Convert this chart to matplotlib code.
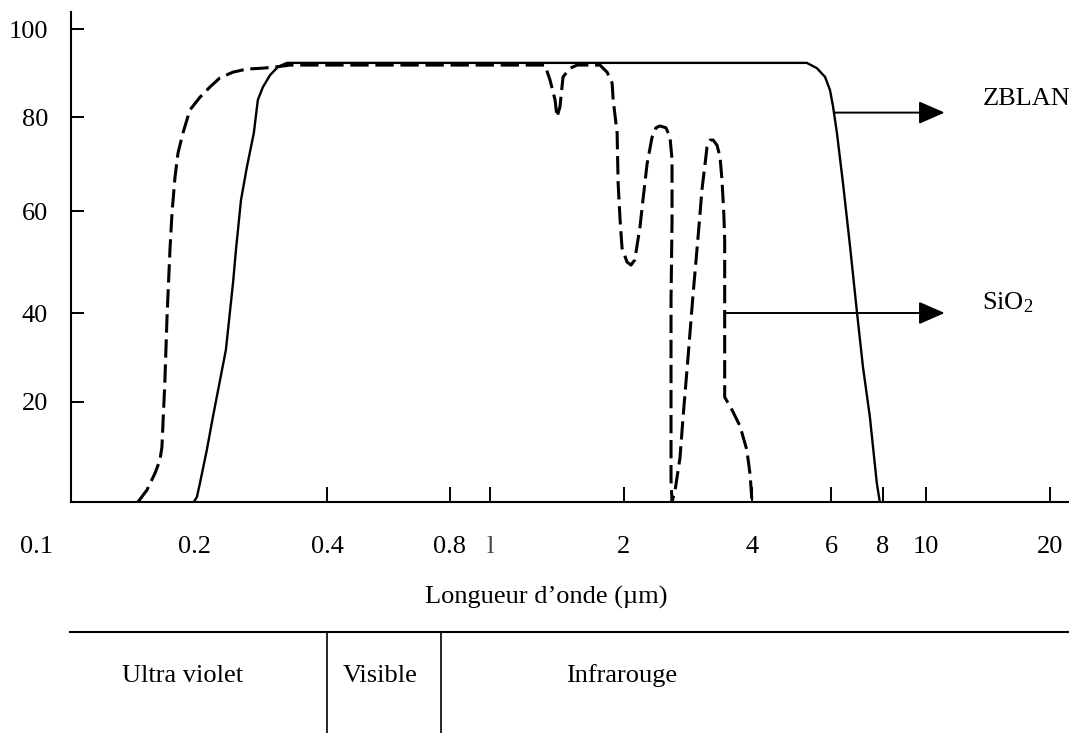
import numpy as np
import matplotlib
matplotlib.use("Agg")
import matplotlib.pyplot as plt
from matplotlib import transforms
from matplotlib.lines import Line2D
from matplotlib.ticker import NullLocator

plt.rcParams.update({
    "font.family": ["Liberation Serif", "DejaVu Serif"],
    "font.size": 19,
    "mathtext.fontset": "custom",
    "mathtext.rm": "Liberation Serif",
    "mathtext.default": "regular",
})

# ---- transmission spectra: wavelength (µm) / transmission (%) ----
zblan_wl = [0.199, 0.202, 0.2053, 0.2128, 0.2197, 0.2352, 0.2442, 0.2480, 0.2546,
            0.2627, 0.2724, 0.2782, 0.2857, 0.2965, 0.3092, 0.3241,
            5.30, 5.58, 5.82, 5.97, 6.07, 6.20, 6.41, 6.67, 6.93, 7.16, 7.44,
            7.73, 7.86]
zblan_t = [0, 1.0, 3.8, 10.4, 17.0, 31.7, 45.9, 52.4, 62.3,
           69.4, 76.6, 83.9, 86.8, 89.5, 91.4, 92.3,
           92.3, 91.1, 89.1, 86.1, 82.3, 76.6, 66.0, 52.9, 40.0, 27.9, 17.0,
           3.8, 0]

sio2_wl = [0.1557, 0.162, 0.1679, 0.1715, 0.173, 0.1738, 0.1746, 0.1753, 0.1769,
           0.1792, 0.1808, 0.1832, 0.1856, 0.1897, 0.1956, 0.2053, 0.2162, 0.2280,
           0.2442, 0.2627, 0.2858, 0.3076, 0.3295,
           1.329, 1.364, 1.400, 1.414, 1.436, 1.459, 1.513, 1.57,
           1.766, 1.832, 1.881, 1.891, 1.93, 1.94, 1.96, 1.98, 2.033, 2.077, 2.12,
           2.181, 2.216, 2.266, 2.328, 2.378, 2.43, 2.51, 2.566, 2.594, 2.594,
           2.58, 2.58, 2.58, 2.594,
           2.638, 2.708, 2.753, 2.828, 2.906, 2.969, 3.017, 3.05, 3.10, 3.135,
           3.19, 3.24, 3.31, 3.364, 3.40, 3.435, 3.45, 3.45, 3.45, 3.59, 3.748,
           3.89, 3.96, 4.0]
sio2_t = [0, 2.4, 5.8, 8.4, 11, 15.8, 20.4, 25.2, 39.1,
          52.4, 59.6, 67.2, 72.3, 76.6, 81.6, 84.5, 86.8, 88.9,
          90.2, 90.9, 91.1, 91.4, 91.8,
          91.8, 88.4, 83.9, 80, 82.3, 89.1, 91.1, 91.8,
          91.8, 90.2, 87.7, 83.9, 76.6, 66, 58.2, 52.7, 50, 49.4, 50.4,
          56.9, 62.3, 70, 75.7, 77.7, 78.1, 77.7, 75.7, 70.9, 58.2,
          42.5, 20.4, 4.4, 0,
          2.4, 8.8, 16.8, 29.9, 43.5, 52.4, 59.2, 64.5, 69.8, 73.6,
          75.1, 75.1, 74, 71.5, 66.6, 59.2, 54.3, 42.5, 21.1, 18.4, 15.2,
          10.4, 5.4, 0]

# ---- axis graduations ----
x_label_values = [0.1, 0.2, 0.4, 0.8, 1, 2, 4, 6, 8, 10, 20]
x_label_texts = ["0.1", "0.2", "0.4", "0.8", "l", "2", "4", "6", "8", "10", "20"]
x_tick_marks = [0.4, 0.8, 1, 2, 4, 6, 8, 10, 20]
y_tick_values = [20, 40, 60, 80, 100]

# spectral domains: boundaries (µm) and names
band_limits = [0.4, 0.76]
band_names = ["Ultra violet", "Visible", "Infrarouge"]

# arrows pointing to the curve names: (start wl, end wl, level %)
zblan_arrow = (6.10, 11.1, 81)
sio2_arrow = (3.45, 11.1, 40)
label_wl = 13.7

# ---- hand-graduated axes: uneven spacing between the graduations ----
W, H = 1069, 733
X_GRAD_POS = [37, 195, 327, 450, 490, 624, 752, 831, 883, 926, 1050]
Y_GRAD_VAL = [0, 20, 40, 60, 80, 100]
Y_GRAD_POS = [0, 100, 189, 291, 385, 473]


def piecewise(xp, fp):
    xp = np.asarray(xp, float)
    fp = np.asarray(fp, float)

    def f(v):
        v = np.asarray(v, float)
        out = np.interp(v, xp, fp)
        lo_slope = (fp[1] - fp[0]) / (xp[1] - xp[0])
        hi_slope = (fp[-1] - fp[-2]) / (xp[-1] - xp[-2])
        out = np.where(v < xp[0], fp[0] + (v - xp[0]) * lo_slope, out)
        out = np.where(v > xp[-1], fp[-1] + (v - xp[-1]) * hi_slope, out)
        return out
    return f


_lx = np.log10(x_label_values)
_xf = piecewise(_lx, X_GRAD_POS)
_xi = piecewise(X_GRAD_POS, _lx)
_yf = piecewise(Y_GRAD_VAL, Y_GRAD_POS)
_yi = piecewise(Y_GRAD_POS, Y_GRAD_VAL)


def x_fwd(v):
    return _xf(np.log10(np.clip(np.asarray(v, float), 1e-9, None)))


def x_inv(p):
    return 10 ** _xi(p)


fig = plt.figure(figsize=(W / 100, H / 100), dpi=100)
ax = fig.add_axes([71 / W, (H - 502) / H, (W - 71) / W, (502 - 12) / H])
ax.set_xscale("function", functions=(x_fwd, x_inv))
ax.set_yscale("function", functions=(_yf, _yi))
ax.set_xlim(float(x_inv(71)), float(x_inv(W)))
ax.set_ylim(float(_yi(0)), float(_yi(490)))

ax.plot(zblan_wl, zblan_t, color="black", lw=1.7, solid_joinstyle="round")
ax.plot(sio2_wl, sio2_t, color="black", lw=2.2, linestyle=(0, (6, 2.2)))

for s in ("top", "right"):
    ax.spines[s].set_visible(False)
for s in ("left", "bottom"):
    ax.spines[s].set_linewidth(1.5)

ax.set_xticks(x_tick_marks)
ax.set_xticklabels([])
ax.xaxis.set_minor_locator(NullLocator())
ax.tick_params(axis="x", direction="in", length=11, width=1.4)
ax.set_yticks(y_tick_values)
ax.set_yticklabels([str(v) for v in y_tick_values])
ax.yaxis.set_minor_locator(NullLocator())
ax.tick_params(axis="y", direction="in", length=9.4, width=1.4, pad=16.5,
               labelsize=19)

xfig = transforms.blended_transform_factory(ax.transData, fig.transFigure)
for v, t in zip(x_label_values, x_label_texts):
    ax.text(v, 1 - 547 / H, t, transform=xfig, ha="center", va="center",
            clip_on=False, color="#444444" if t == "l" else "black")

fig.text(546 / W, 1 - 597 / H, "Longueur d\u2019onde (\u00b5m)", ha="center", va="center")

# arrows and curve names
arrow_style = dict(arrowstyle="-|>,head_length=0.8,head_width=0.35",
                   mutation_scale=20, lw=1.4, color="black", shrinkA=0, shrinkB=0)
for (x0, x1, lvl) in (zblan_arrow, sio2_arrow):
    ax.annotate("", xy=(x1, lvl), xytext=(x0, lvl), arrowprops=arrow_style,
                annotation_clip=False)
ax.text(label_wl, 84, "ZBLAN", ha="left", va="center")
ax.text(label_wl, 42, "SiO$_2$", ha="left", va="center")

# spectral domain strip under the axis
strip_top = 1 - 632 / H
fig.add_artist(Line2D([70 / W, 1], [strip_top, strip_top], transform=fig.transFigure,
                      color="black", lw=1.5))
for b in band_limits:
    fig.add_artist(Line2D([b, b], [strip_top, 0], transform=xfig, color="black", lw=1.2))
for name, px in zip(band_names, [183, 380, 622]):
    fig.text(px / W, 1 - 676 / H, name, ha="center", va="center")

fig.savefig("out.png", dpi=100)
